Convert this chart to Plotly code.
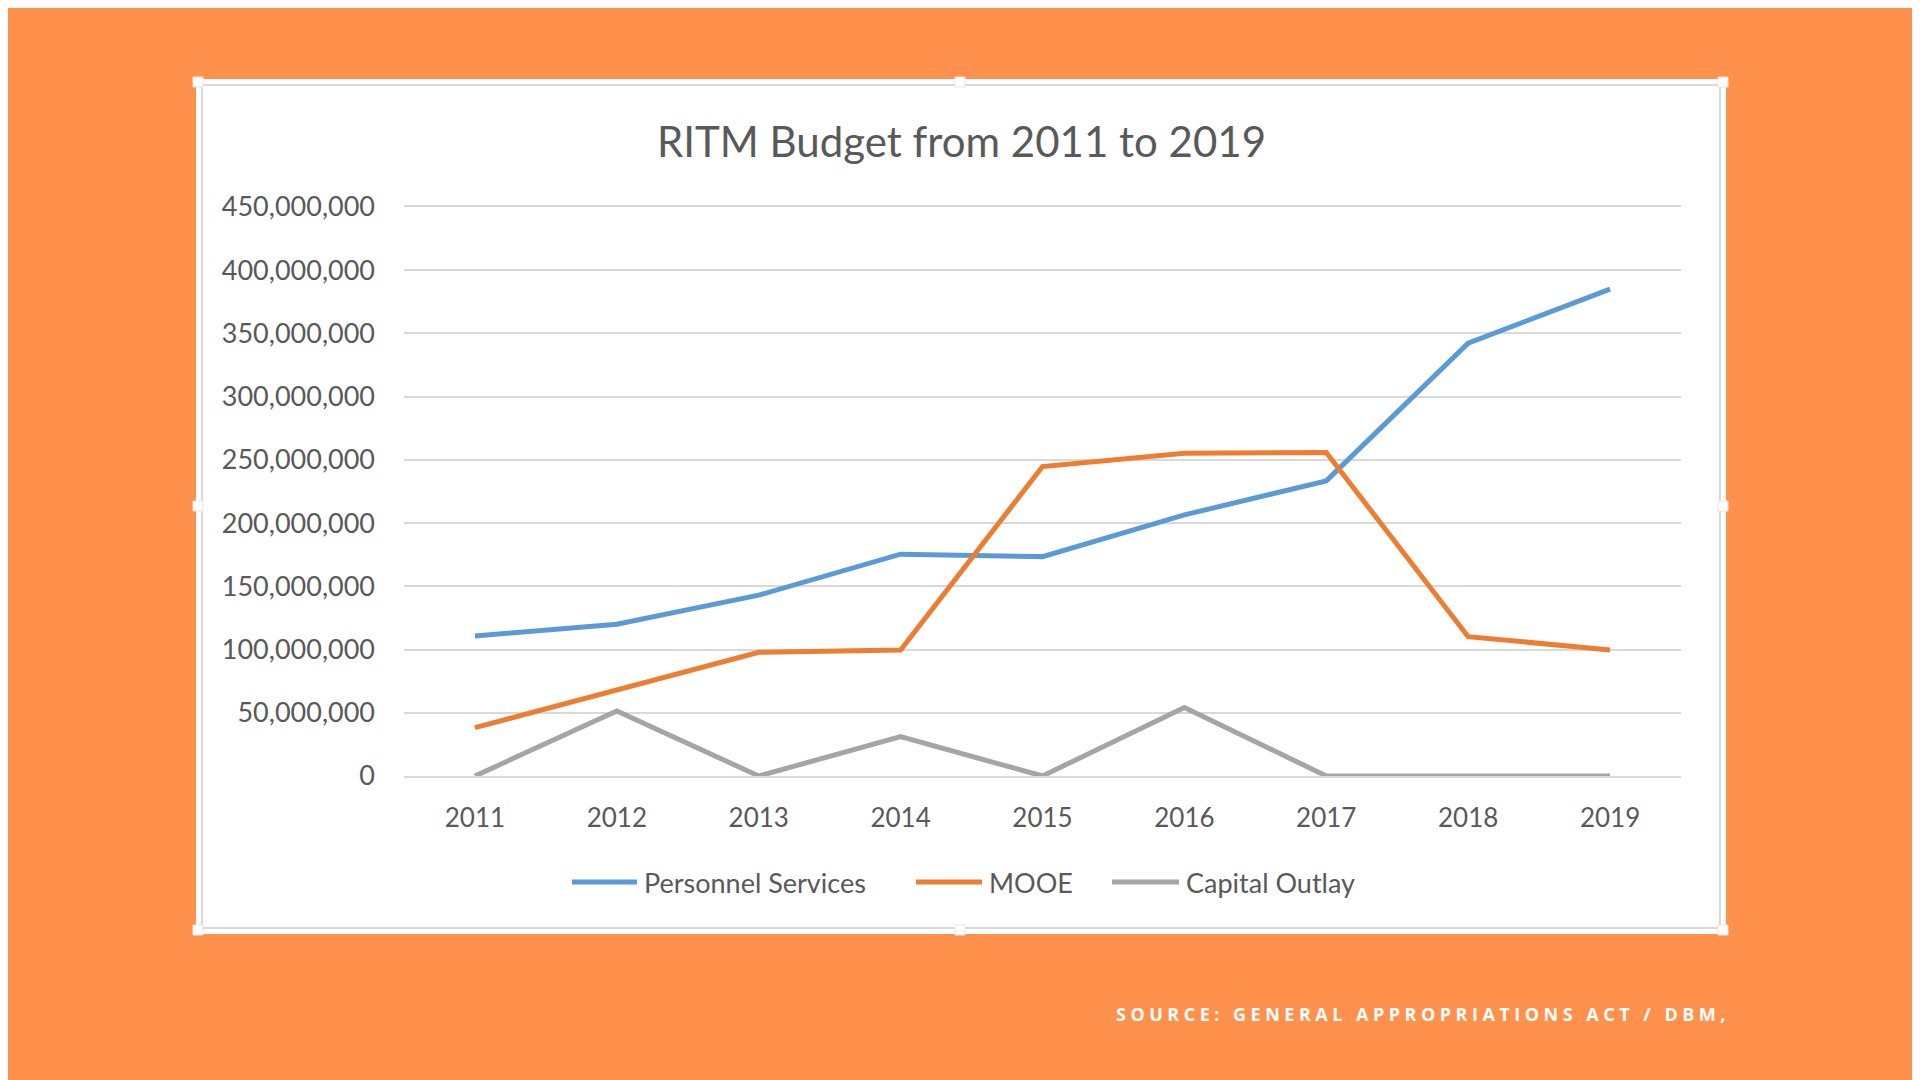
import plotly.graph_objects as go

years = ["2011", "2012", "2013", "2014", "2015", "2016", "2017", "2018", "2019"]
personnel = [110.8e6, 120e6, 143e6, 175.4e6, 173.5e6, 206.5e6, 233.4e6, 342.3e6, 385e6]
mooe = [38.2e6, 68e6, 97.8e6, 99.7e6, 244.7e6, 255.3e6, 255.8e6, 110.2e6, 99.7e6]
capital = [0, 51.4e6, 0, 31.1e6, 0, 54.2e6, 0, 0, 0]
series_names = ["Personnel Services", "MOOE", "Capital Outlay"]
series_colors = ["#5B9BD5", "#ED7D31", "#A5A5A5"]
y_ticks = list(range(0, 450_000_001, 50_000_000))
y_labels = ["0"] + [f"{v:,}" for v in y_ticks[1:]]

W, H = 1920, 1080
OFF = 8  # page body margin, everything below is in screen pixels of the reference
L, R, T, B = 404 - OFF, 1681 - OFF, 207 - OFF, 776 - OFF
FONT = "Lato"
TXT = "#595959"


def px_x(p):
    return (p - OFF - L) / (R - L)


def px_y(p):
    return (B - (p - OFF)) / (B - T)


fig = go.Figure()
for name, vals, col in zip(series_names, [personnel, mooe, capital], series_colors):
    fig.add_trace(go.Scatter(x=years, y=vals, name=name, mode="lines",
                             line=dict(color=col, width=5), showlegend=False))

# white chart box with thin grey frame
fig.add_shape(type="rect", xref="paper", yref="paper", layer="below",
              x0=px_x(196), x1=px_x(1726), y0=px_y(934), y1=px_y(79),
              fillcolor="white", line=dict(width=0))
fig.add_shape(type="rect", xref="paper", yref="paper", layer="below",
              x0=px_x(202), x1=px_x(1720), y0=px_y(928), y1=px_y(85),
              fillcolor="white", line=dict(color="#D9D9D9", width=2))
# selection handles
for hx in [198, 960, 1723]:
    for hy in [82, 506, 930]:
        if hx == 960 and hy == 506:
            continue
        fig.add_shape(type="rect", xref="paper", yref="paper",
                      x0=px_x(hx - 5), x1=px_x(hx + 5), y0=px_y(hy + 5), y1=px_y(hy - 5),
                      fillcolor="white", line=dict(color="#E6E6E6", width=1))

fig.add_annotation(text="RITM Budget from 2011 to 2019", xref="paper", yref="paper",
                   x=px_x(961), y=px_y(141), xanchor="center", yanchor="middle", showarrow=False,
                   font=dict(family=FONT, size=42, color=TXT))
fig.add_annotation(text='<span style="letter-spacing:4.5px">SOURCE: GENERAL APPROPRIATIONS ACT / DBM,</span>',
                   xref="paper", yref="paper", x=px_x(1732), y=px_y(1014),
                   xanchor="right", yanchor="middle", showarrow=False,
                   font=dict(family="Open Sans", size=18, color="white", weight="bold"))

# legend drawn like the Excel one: long line sample then label
legend_line_x = [(572, 637), (916, 982), (1112, 1179)]
legend_y = 882
for name, col, (lx0, lx1) in zip(series_names, series_colors, legend_line_x):
    fig.add_shape(type="line", xref="paper", yref="paper",
                  x0=px_x(lx0), x1=px_x(lx1), y0=px_y(legend_y), y1=px_y(legend_y),
                  line=dict(color=col, width=5))
    fig.add_annotation(text=name, xref="paper", yref="paper", x=px_x(lx1 + 5), y=px_y(legend_y),
                       xanchor="left", yanchor="middle", showarrow=False,
                       font=dict(family=FONT, size=27, color=TXT))

fig.update_layout(
    width=W, height=H,
    margin=dict(l=L, r=W - R, t=T, b=H - B),
    paper_bgcolor="#FF914D", plot_bgcolor="white",
    font=dict(family=FONT, size=26, color=TXT),
    showlegend=False,
    xaxis=dict(range=[-0.5, 8.5], showgrid=False, showline=True, mirror=True,
               linecolor="#D9D9D9", linewidth=2,
               ticks="", ticklabelstandoff=18, tickfont=dict(size=26, color=TXT)),
    yaxis=dict(range=[0, 450_000_000], tickvals=y_ticks, ticktext=y_labels,
               showgrid=True, gridcolor="#D9D9D9", gridwidth=2, zeroline=False,
               showline=False, ticks="", ticklabelstandoff=28, tickfont=dict(size=27, color=TXT)),
)

fig.write_html("out.html")
